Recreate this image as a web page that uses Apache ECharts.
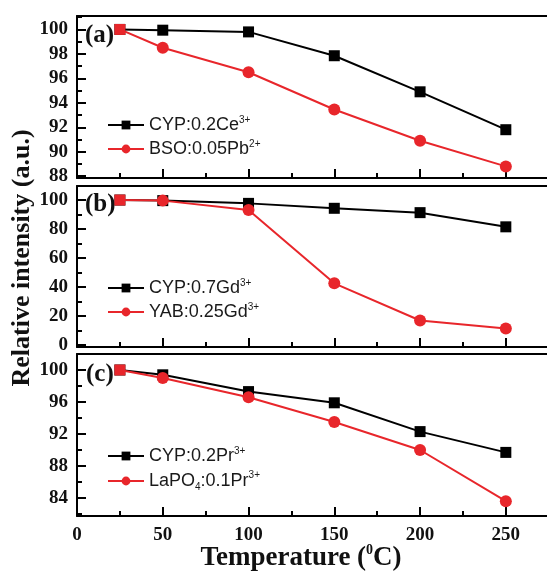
<!DOCTYPE html>
<html>
<head>
<meta charset="utf-8">
<script src="https://cdn.jsdelivr.net/npm/echarts@6/dist/echarts.min.js"></script>
<style>html,body{margin:0;padding:0;background:#fff;}#c{width:547px;height:574px;}</style>
</head>
<body>
<div id="c"></div>
<script>
// ---- data ----
const temps = [25, 50, 100, 150, 200, 250];
const cypCe = [100, 99.94, 99.8, 97.85, 94.9, 91.8];
const bsoPb = [100, 98.5, 96.5, 93.45, 90.9, 88.8];
const cypGd = [100, 99.6, 97.7, 94.3, 91.3, 81.5];
const yabGd = [100, 99.6, 93.1, 42.5, 16.8, 11.3];
const cypPr = [100, 99.4, 97.3, 95.9, 92.3, 89.7];
const lapoPr = [100, 99.0, 96.6, 93.5, 90.0, 83.6];

const xTicks = [0, 50, 100, 150, 200, 250];
const xMinor = [25, 75, 125, 175, 225];
const yTicksA = [88, 90, 92, 94, 96, 98, 100];
const yMinorA = [89, 91, 93, 95, 97, 99, 101];
const yTicksB = [0, 20, 40, 60, 80, 100];
const yMinorB = [10, 30, 50, 70, 90];
const yTicksC = [84, 88, 92, 96, 100];
const yMinorC = [82, 86, 90, 94, 98];

const names = ['CYP:0.2Ce3+', 'BSO:0.05Pb2+', 'CYP:0.7Gd3+', 'YAB:0.25Gd3+', 'CYP:0.2Pr3+', 'LaPO4:0.1Pr3+'];
const richNames = {
  'CYP:0.2Ce3+': '{n|CYP:0.2Ce}{sup|3+}',
  'BSO:0.05Pb2+': '{n|BSO:0.05Pb}{sup|2+}',
  'CYP:0.7Gd3+': '{n|CYP:0.7Gd}{sup|3+}',
  'YAB:0.25Gd3+': '{n|YAB:0.25Gd}{sup|3+}',
  'CYP:0.2Pr3+': '{n|CYP:0.2Pr}{sup|3+}',
  'LaPO4:0.1Pr3+': '{n|LaPO}{sub|4}{n|:0.1Pr}{sup|3+}'
};

// ---- styling / layout ----
const RED = '#e8262b';
const BLK = '#000';
const serif = '"Liberation Serif", "Times New Roman", serif';
const sans = '"Liberation Sans", Arial, sans-serif';

const X_LEFT = 77, X_WIDTH = 470, X_MAX = 274;
const panels = [
  {top: 16, height: 162},
  {top: 186, height: 161},
  {top: 354, height: 162}
];
const yRanges = [[87.85, 101.1], [-1.5, 109.7], [81.75, 102]];
const yTicks = [yTicksA, yTicksB, yTicksC];
const yMinors = [yMinorA, yMinorB, yMinorC];

const labelStyle = {color: '#111', fontFamily: serif, fontWeight: 'bold', fontSize: 19};
const tickLine = {show: true, showMaxLine: false, lineStyle: {color: BLK, width: 2, type: 'solid'}};
const axisLineStyle = {show: true, onZero: false, lineStyle: {color: BLK, width: 2}};

const grids = [], xAxes = [], yAxes = [];

// data grids (grid index 0..2, xAxis index 0..2, yAxis index 0..2)
for (let i = 0; i < 3; i++) {
  grids.push({left: X_LEFT, width: X_WIDTH, top: panels[i].top, height: panels[i].height, show: false});
  xAxes.push({
    type: 'value', gridIndex: i, min: 0, max: X_MAX, interval: xTicks[1] - xTicks[0], position: 'bottom',
    axisLine: axisLineStyle, axisTick: {show: false},
    axisLabel: Object.assign({show: i === 2, margin: 10, showMaxLabel: false}, labelStyle),
    splitLine: {show: false}
  });
  yAxes.push({
    type: 'value', gridIndex: i, min: yRanges[i][0], max: yRanges[i][1],
    axisLine: axisLineStyle, axisTick: {show: false}, axisLabel: {show: false}, splitLine: {show: false}
  });
}
// top frame lines
for (let i = 0; i < 3; i++) {
  xAxes.push({
    type: 'value', gridIndex: i, min: 0, max: X_MAX, position: 'top',
    axisLine: axisLineStyle, axisTick: {show: false}, axisLabel: {show: false}, splitLine: {show: false}
  });
}

// tick overlays: thin grids whose split lines act as inward ticks
function yTickGrid(panelIdx, ticks, len, withLabels) {
  const [lo, hi] = yRanges[panelIdx];
  const p = panels[panelIdx];
  const fromVal = ticks[0];
  const bottomPx = p.top + p.height * (hi - fromVal) / (hi - lo);
  const gi = grids.length;
  grids.push({left: X_LEFT, width: len, top: p.top, height: bottomPx - p.top, show: false});
  xAxes.push({type: 'value', gridIndex: gi, min: 0, max: 1, show: false});
  yAxes.push({
    type: 'value', gridIndex: gi, min: fromVal, max: hi, interval: ticks[1] - ticks[0],
    axisLine: {show: false}, axisTick: {show: false},
    axisLabel: Object.assign({show: withLabels, margin: 9, showMaxLabel: false}, labelStyle),
    splitLine: tickLine
  });
}
function xTickGrid(panelIdx, ticks, len) {
  const p = panels[panelIdx];
  const fromVal = ticks[0];
  const leftPx = X_LEFT + X_WIDTH * fromVal / X_MAX;
  const gi = grids.length;
  grids.push({left: leftPx, width: X_LEFT + X_WIDTH - leftPx, top: p.top + p.height - len, height: len, show: false});
  yAxes.push({type: 'value', gridIndex: gi, min: 0, max: 1, show: false});
  xAxes.push({
    type: 'value', gridIndex: gi, min: fromVal, max: X_MAX, interval: ticks[1] - ticks[0],
    axisLine: {show: false}, axisTick: {show: false}, axisLabel: {show: false},
    splitLine: tickLine
  });
}
for (let i = 0; i < 3; i++) {
  yTickGrid(i, yTicks[i], 9, true);
  yTickGrid(i, yMinors[i], 5, false);
  xTickGrid(i, xTicks, 9);
  xTickGrid(i, xMinor, 5);
}

const seriesData = [cypCe, bsoPb, cypGd, yabGd, cypPr, lapoPr];
const series = seriesData.map((vals, k) => {
  const panel = Math.floor(k / 2);
  const isRed = k % 2 === 1;
  return {
    name: names[k],
    type: 'line',
    xAxisIndex: panel,
    yAxisIndex: panel,
    data: temps.map((t, j) => {
      const item = {value: [t, vals[j]]};
      if (isRed && j === 0) { item.symbol = 'rect'; item.symbolSize = 11; }
      return item;
    }),
    symbol: isRed ? 'circle' : 'rect',
    symbolSize: isRed ? 12 : 11,
    itemStyle: {color: isRed ? RED : BLK},
    lineStyle: {color: isRed ? RED : BLK, width: 2},
    z: isRed ? 4 : 3,
    clip: false,
    animation: false
  };
});

const legendTops = [115, 278, 446];
const legends = [0, 1, 2].map(p => ({
  data: [names[p * 2], names[p * 2 + 1]],
  orient: 'vertical',
  left: 107,
  top: legendTops[p],
  padding: 0,
  itemWidth: 36,
  itemHeight: 11,
  itemGap: 5,
  formatter: n => richNames[n],
  textStyle: {
    rich: {
      n: {fontFamily: sans, fontSize: 18, color: '#1a1a1a', lineHeight: 20},
      sup: {fontFamily: sans, fontSize: 10, color: '#1a1a1a', verticalAlign: 'top', lineHeight: 20},
      sub: {fontFamily: sans, fontSize: 10, color: '#1a1a1a', verticalAlign: 'bottom', lineHeight: 22}
    }
  }
}));

const graphics = [
  {type: 'text', left: 85, top: 23, style: {text: '(a)', font: 'bold 25px ' + serif, fill: '#111'}},
  {type: 'text', left: 85, top: 192, style: {text: '(b)', font: 'bold 25px ' + serif, fill: '#111'}},
  {type: 'text', left: 86, top: 362, style: {text: '(c)', font: 'bold 25px ' + serif, fill: '#111'}},
  {type: 'text', x: 22, y: 258, rotation: Math.PI / 2,
   style: {text: 'Relative intensity (a.u.)', font: 'bold 26px ' + serif, fill: '#111', textAlign: 'center', textVerticalAlign: 'middle'}},
  {type: 'text', x: 301, y: 558,
   style: {text: '{a|Temperature (}{s|0}{a|C)}', textAlign: 'center', textVerticalAlign: 'middle', fill: '#111',
     rich: {
       a: {font: 'bold 27px ' + serif, fill: '#111', lineHeight: 30},
       s: {font: 'bold 14px ' + serif, fill: '#111', verticalAlign: 'top', lineHeight: 30}
     }}}
];

const chart = echarts.init(document.getElementById('c'), null, {renderer: 'canvas'});
chart.setOption({
  animation: false,
  backgroundColor: '#fff',
  grid: grids,
  xAxis: xAxes,
  yAxis: yAxes,
  legend: legends,
  series: series,
  graphic: graphics
});
</script>
</body>
</html>
